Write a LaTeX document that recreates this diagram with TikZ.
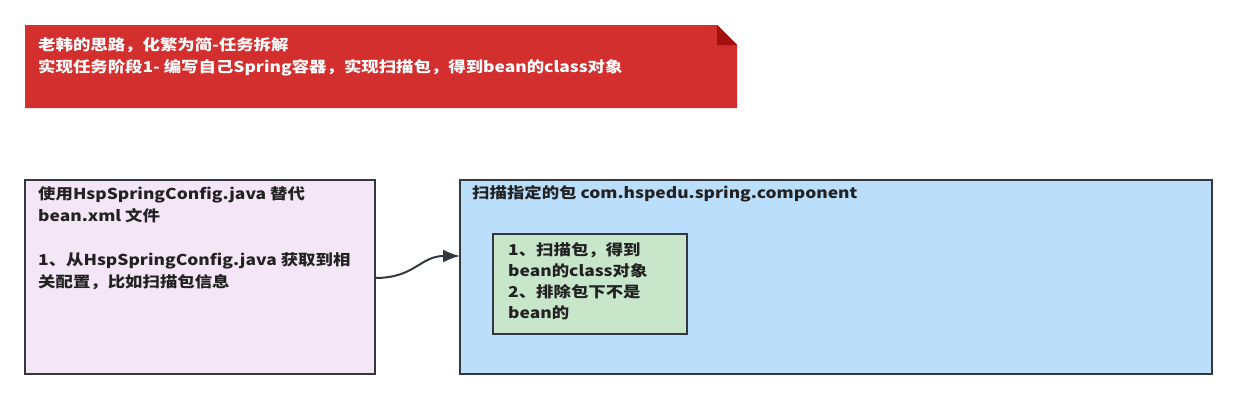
\documentclass[tikz,border=0pt]{standalone}
\usepackage{fontspec}
\newfontfamily\cjk{Noto Sans CJK SC}[FakeStretch=1.16]
\usetikzlibrary{arrows.meta}
\definecolor{bannerred}{HTML}{D32F2F}
\definecolor{folddark}{HTML}{A50F0F}
\definecolor{pinkfill}{HTML}{F5E6F7}
\definecolor{bluefill}{HTML}{BBDEFB}
\definecolor{greenfill}{HTML}{C8E6C9}
\definecolor{edge}{HTML}{333840}
\definecolor{txt}{HTML}{222222}
\tikzset{
  box/.style={draw=edge, line width=2.2pt},
  label/.style={anchor=north west, inner sep=0pt, align=left, text=txt,
    font=\cjk\bfseries\fontsize{15}{22}\selectfont},
  bannertext/.style={anchor=north west, inner sep=0pt, align=left, text=white,
    font=\cjk\bfseries\fontsize{15}{22}\selectfont},
  conn/.style={draw=edge, line width=2pt, -{Latex[length=17pt,width=13pt]}}
}
\begin{document}
\begin{tikzpicture}[x=1pt,y=-1pt]
\useasboundingbox (0,0) rectangle (1253,415);
% banner
\fill[bannerred] (25,25) -- (717,25) -- (737,45) -- (737,108) -- (25,108) -- cycle;
\fill[folddark] (717,25) -- (737,45) -- (717,45) -- cycle;
\node[bannertext] (bt) at (38,37) {老韩的思路，化繁为简-任务拆解\\实现任务阶段1- 编写自己Spring容器，实现扫描包，得到bean的class对象};
% left box
\draw[box, fill=pinkfill] (25,180) rectangle (375,374);
\coordinate (lb) at (375,278);
\node[label] (lt) at (38,186) {使用HspSpringConfig.java 替代\\bean.xml 文件\\[22pt]1、从HspSpringConfig.java 获取到相\\关配置，比如扫描包信息};
% right box
\draw[box, fill=bluefill] (460,180) rectangle (1212,374);
\coordinate (rb) at (460,256);
\node[label] (rt) at (472,185) {扫描指定的包 com.hspedu.spring.component};
% inner green box
\draw[box, fill=greenfill] (493,234) rectangle (687,334);
\node[label, font=\cjk\bfseries\fontsize{15}{21}\selectfont] (gt) at (508,242) {1、扫描包，得到\\bean的class对象\\2、排除包下不是\\bean的};
% connector
\draw[conn] (lb) .. controls (415,278) and (420,256) .. (rb);
\end{tikzpicture}
\end{document}
